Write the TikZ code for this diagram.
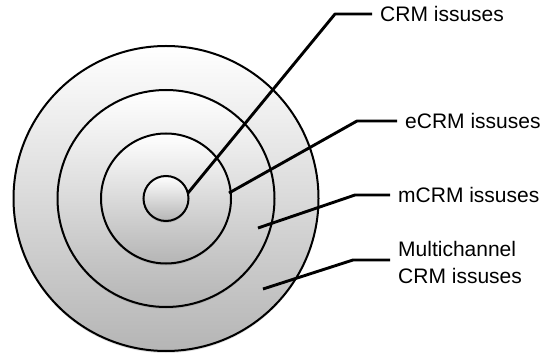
\documentclass[tikz,border=0pt]{standalone}
\usepackage{fontspec}
\setmainfont{Liberation Sans}
\usepackage{tikz}
\usetikzlibrary{shadows}

\begin{document}
\begin{tikzpicture}[x=1pt,y=1pt,
    ring/.style={circle,draw,line width=2pt,inner sep=0pt,
      top color=white,bottom color=gray!58,
      drop shadow={shadow xshift=0pt,shadow yshift=-2pt,opacity=0.25}},
    lead/.style={line width=2.9pt,line join=round},
    issue/.style={anchor=west,inner xsep=8pt,inner ysep=0pt,align=left,
      font=\fontsize{21}{27}\selectfont}]
  \useasboundingbox (0,0) rectangle (548,356);
  % rings, biggest first
  \node[ring,minimum size=305pt] (multi) at (166,157.5) {};
  \node[ring,minimum size=217pt] (mcrm) at (166,157.5) {};
  \node[ring,minimum size=130pt] (ecrm) at (166,157.5) {};
  \node[ring,minimum size=45pt] (crm) at (166,157.5) {};
  % labels
  \node[issue] (crmtext) at (372,342) {CRM issuses};
  \node[issue] (ecrmtext) at (397,235) {eCRM issuses};
  \node[issue] (mcrmtext) at (390,161) {mCRM issuses};
  \node[issue] (multitext) at (390,94) {Multichannel\\CRM issuses};
  % where the leads start and bend
  \coordinate (crmpt) at (188,163);
  \coordinate (crmbend) at (335,342);
  \coordinate (ecrmpt) at (229,163);
  \coordinate (ecrmbend) at (357,235);
  \coordinate (mcrmpt) at (258,128);
  \coordinate (mcrmbend) at (355,161);
  \coordinate (multipt) at (263,67);
  \coordinate (multibend) at (353,96);
  % leads
  \draw[lead] (crmpt) -- (crmbend) -- (crmtext.west);
  \draw[lead] (ecrmpt) -- (ecrmbend) -- (ecrmtext.west);
  \draw[lead] (mcrmpt) -- (mcrmbend) -- (mcrmtext.west);
  \draw[lead] (multipt) -- (multibend) -- (multitext.west |- multibend);
\end{tikzpicture}
\end{document}
